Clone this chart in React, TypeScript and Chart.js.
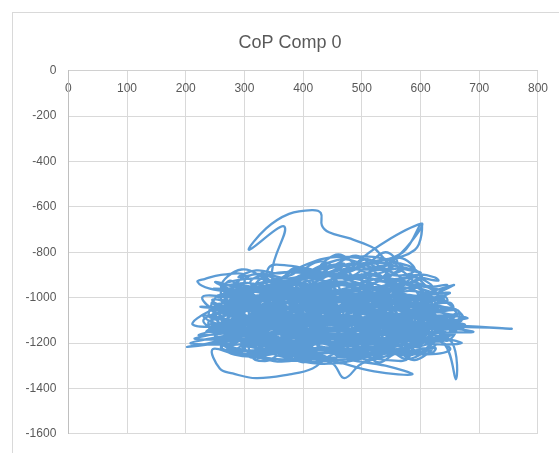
import { useEffect, useRef } from "react";
import { Chart, registerables } from "chart.js";

Chart.register(...registerables);

const chartTitle = "CoP Comp 0";
const xRange = [0, 800];
const yRange = [-1600, 0];
const xStep = 100;
const yStep = 200;

// CoP trajectory (x, y)
const copPath: [number, number][] = [
  [420, -1080], [520, -1120], [600, -1060], [480, -1010], [350, -1060], [290, -1140], [380, -1190], [520, -1160], [610, -1120], [560, -1210], [420, -1230], [320, -1180], [270, -1100], [330, -1010], [450, -980], [560, -1020],
  [630, -1090], [590, -1170], [470, -1200], [360, -1150], [310, -1080], [400, -1040], [530, -1060], [580, -1140], [500, -1250], [380, -1250], [300, -1200], [260, -1130], [300, -1050], [410, -950], [500, -900], [560, -940],
  [500, -1000], [420, -1060], [360, -980], [347, -883], [368, -687], [308, -789], [337, -695], [376, -631], [415, -614], [430, -627], [432, -682], [444, -712], [478, -738], [517, -777], [529, -802], [546, -875],
  [500, -960], [400, -1000], [330, -1100], [400, -1160], [520, -1190], [590, -1100], [540, -1000], [440, -940], [370, -990], [300, -1030], [250, -1090], [320, -1160], [450, -1130], [560, -1080], [620, -1020], [580, -960],
  [470, -900], [380, -920], [320, -970], [290, -1060], [350, -1120], [460, -1090], [540, -1140], [600, -1200], [530, -1250], [430, -1280], [350, -1270], [280, -1230], [250, -1170], [300, -1110], [420, -1120], [510, -1070],
  [600, -1110], [755, -1137], [640, -1130], [560, -1160], [450, -1180], [340, -1200], [280, -1170], [310, -1100], [380, -1060], [470, -1040], [520, -960], [480, -880], [601, -674], [560, -820], [500, -900], [430, -960],
  [350, -1030], [290, -1000], [260, -950], [295, -876], [340, -920], [420, -1000], [520, -1030], [600, -1080], [650, -1140], [620, -1200], [540, -1230], [440, -1220], [360, -1230], [290, -1250], [246, -1227], [258, -1312],
  [280, -1334], [320, -1355], [377, -1338], [416, -1312], [450, -1250], [520, -1200], [570, -1120], [500, -1060], [400, -1080], [320, -1130], [270, -1200], [330, -1240], [430, -1200], [500, -1130], [580, -1060], [640, -1050],
  [590, -1010], [657, -944], [600, -1000], [520, -990], [430, -1020], [360, -1090], [300, -1160], [240, -1200], [203, -1217], [280, -1190], [380, -1140], [470, -1150], [560, -1190], [620, -1160], [590, -1090], [490, -1050],
  [390, -1010], [320, -950], [340, -900], [410, -880], [470, -850], [430, -920], [380, -970], [300, -1010], [240, -1060], [212, -1119], [270, -1125], [350, -1100], [440, -1060], [540, -1090], [600, -1150], [560, -1240],
  [500, -1290], [470, -1355], [450, -1290], [400, -1260], [330, -1210], [280, -1140], [330, -1070], [430, -1030], [510, -1010], [580, -1030], [620, -1080], [600, -1140], [520, -1180], [430, -1160], [340, -1170], [300, -1220],
  [350, -1280], [430, -1270], [521, -1325], [586, -1338], [540, -1300], [480, -1270], [560, -1240], [636, -1196], [660, -1360], [653, -1196], [610, -1160], [520, -1130], [410, -1100], [320, -1040], [280, -960], [300, -900],
  [260, -900], [232, -918], [220, -930], [241, -960], [300, -980], [380, -1020], [470, -1000], [550, -960], [600, -900], [540, -850], [460, -820], [400, -860], [350, -940], [330, -1000], [380, -1110], [460, -1180],
  [560, -1150], [620, -1110], [677, -1124], [630, -1140], [540, -1110], [450, -1100], [360, -1130], [300, -1190], [360, -1220], [470, -1230], [560, -1200], [600, -1130], [570, -1040], [480, -980], [400, -960], [330, -960],
  [290, -1020], [310, -1090], [390, -1120], [480, -1110], [560, -1100], [620, -1060], [580, -990], [500, -940], [440, -880], [520, -840], [590, -790], [601, -674], [570, -800], [510, -850], [450, -900], [370, -960],
  [300, -1090], [250, -1140], [270, -1210], [350, -1240], [440, -1240], [530, -1210], [590, -1180], [640, -1170], [600, -1090], [520, -1080], [450, -1130], [380, -1180], [310, -1140], [330, -1060], [420, -1010], [500, -1030],
  [560, -1070], [520, -1150], [440, -1200], [350, -1190], [280, -1100], [320, -1000], [400, -960], [480, -940], [540, -980], [580, -1060], [540, -1120], [470, -1080], [400, -1100], [330, -1150], [270, -1160], [230, -1100],
  [280, -1060], [370, -1060], [450, -1080], [540, -1040], [610, -1060], [630, -1130], [580, -1220], [490, -1240], [400, -1210], [330, -1120], [380, -1040], [460, -1020], [550, -1050], [620, -1110], [560, -1180], [470, -1170],
  [390, -1150], [330, -1090], [360, -1010], [440, -980], [520, -920], [570, -870], [520, -820], [450, -840], [400, -900], [350, -980], [300, -1060], [330, -1130], [420, -1150], [510, -1140], [600, -1120], [650, -1090],
  [610, -1040], [540, -1010], [460, -1050], [380, -1080], [310, -1060], [260, -1010], [300, -960], [380, -990], [460, -1000], [540, -1030], [600, -1100], [570, -1180], [480, -1210], [390, -1230], [310, -1260], [270, -1230],
  [320, -1160], [410, -1090], [500, -1100], [570, -1160], [530, -1240], [450, -1290], [380, -1270], [330, -1220], [380, -1180], [460, -1160], [540, -1160], [620, -1180], [650, -1230], [590, -1250], [500, -1220], [420, -1190],
  [350, -1140], [290, -1090], [330, -1040], [420, -1060], [500, -1090], [560, -1000], [510, -930], [430, -900], [360, -890], [310, -930], [350, -990], [440, -1040], [530, -1080], [600, -1060], [560, -1120], [470, -1140],
  [380, -1100], [320, -1060], [360, -1130], [450, -1200], [540, -1190], [610, -1130], [580, -1080], [500, -1130], [420, -1140], [340, -1110], [290, -1180], [360, -1210], [460, -1180], [540, -1120], [480, -1060], [420, -1080],
  [330, -890], [360, -920], [385, -870], [420, -910], [450, -860], [480, -905], [510, -870], [540, -915], [565, -880], [590, -930],
  [620, -950], [590, -910], [560, -960], [530, -925], [500, -975], [465, -930], [430, -965], [400, -920], [365, -970], [330, -935], [300, -965], [275, -925],
  [260, -985], [290, -950], [320, -1000], [350, -960], [385, -1005], [415, -970], [450, -1010], [480, -965], [515, -1000], [545, -960], [580, -1005], [615, -975], [640, -1010],
  [655, -1040], [625, -1000], [595, -1050], [560, -1010], [525, -1055], [495, -1005], [460, -1045], [425, -1000], [395, -1050], [360, -1010], [325, -1055], [295, -1015], [265, -1050], [245, -1020],
  [250, -1070], [280, -1035], [310, -1085], [345, -1040], [375, -1090], [410, -1045], [440, -1085], [475, -1040], [505, -1090], [540, -1050], [570, -1095], [605, -1055], [635, -1090], [665, -1070],
  [660, -1110], [630, -1080], [600, -1125], [565, -1085], [535, -1130], [500, -1090], [470, -1135], [435, -1095], [400, -1130], [370, -1085], [335, -1125], [300, -1090], [270, -1130], [240, -1105],
  [245, -1150], [275, -1115], [305, -1165], [340, -1125], [370, -1170], [400, -1130], [435, -1175], [470, -1130], [500, -1170], [530, -1125], [565, -1175], [595, -1135], [630, -1170], [660, -1145],
  [645, -1190], [615, -1160], [585, -1210], [555, -1165], [520, -1215], [490, -1170], [455, -1210], [420, -1165], [390, -1215], [355, -1175], [320, -1220], [290, -1180], [260, -1215],
  [275, -1240], [305, -1205], [335, -1250], [365, -1210], [400, -1255], [430, -1215], [465, -1260], [495, -1220], [525, -1260], [560, -1215], [590, -1250], [620, -1225],
  [590, -1275], [560, -1245], [530, -1285], [500, -1250], [465, -1290], [430, -1255], [400, -1285], [365, -1250], [335, -1280], [310, -1250],
  [300, -930], [335, -895], [365, -945], [400, -900], [430, -950], [465, -890], [495, -940], [525, -895], [555, -945], [585, -900], [610, -950],
  [630, -990], [600, -1030], [570, -985], [540, -1030], [505, -980], [475, -1025], [440, -985], [410, -1030], [375, -980], [345, -1025], [310, -985], [280, -1020], [255, -990],
  [240, -1085], [270, -1060], [300, -1110], [330, -1065], [360, -1105], [390, -1060], [420, -1110], [455, -1065], [485, -1110], [520, -1070], [550, -1115], [585, -1070], [615, -1105], [650, -1080],
  [655, -1160], [620, -1135], [590, -1180], [560, -1140], [530, -1190], [495, -1145], [465, -1190], [430, -1150], [400, -1195], [365, -1150], [330, -1195], [300, -1155], [270, -1195], [250, -1165],
  [285, -1225], [315, -1265], [350, -1230], [380, -1270], [415, -1235], [445, -1275], [480, -1240], [510, -1275], [545, -1235], [575, -1270], [605, -1240],
  [640, -1125], [610, -1100], [580, -1145], [550, -1105], [515, -1150], [485, -1110], [450, -1150], [420, -1110], [385, -1155], [350, -1105], [320, -1150], [285, -1110], [255, -1150],
  [265, -1040], [295, -1005], [325, -1055], [355, -1015], [390, -1065], [420, -1020], [450, -1065], [485, -1020], [515, -1065], [550, -1025], [580, -1070], [610, -1030], [640, -1065],
  [600, -965], [570, -930], [540, -985], [505, -945], [475, -990], [440, -945], [410, -995], [375, -950], [345, -995], [310, -955], [280, -990],
  [300, -1000], [320, -1200], [350, -980], [370, -1230], [400, -960], [420, -1240], [450, -950], [470, -1250], [500, -940], [520, -1230], [550, -970], [570, -1210], [600, -1000], [620, -1180],
  [590, -1240], [560, -920], [535, -1220], [505, -900], [480, -1200], [455, -920], [425, -1210], [395, -930], [360, -1190], [335, -950], [305, -1170], [280, -1000], [260, -1150],
  [290, -1110], [315, -1080], [340, -1125], [360, -1090], [385, -1120], [410, -1075], [435, -1115], [460, -1075], [485, -1120], [510, -1080], [535, -1125], [560, -1085], [585, -1120], [610, -1090],
  [600, -1190], [575, -1155], [550, -1200], [525, -1160], [500, -1205], [475, -1165], [450, -1205], [425, -1160], [400, -1200], [375, -1165], [350, -1205], [320, -1170], [295, -1200],
  [300, -1025], [325, -990], [350, -1035], [380, -995], [405, -1040], [430, -995], [460, -1035], [485, -995], [510, -1040], [540, -1000], [565, -1040], [595, -1000],
  [615, -1140], [590, -1110], [560, -1155], [535, -1115], [505, -1160], [480, -1115], [455, -1160], [425, -1120], [400, -1160], [370, -1120], [345, -1160], [315, -1120], [290, -1155],
  [300, -1065], [330, -1030], [355, -1075], [385, -1035], [410, -1080], [440, -1035], [465, -1080], [495, -1035], [525, -1080], [555, -1040], [580, -1080], [610, -1045],
  [560, -900], [520, -870], [470, -830], [430, -860], [460, -810], [500, -860], [540, -800], [560, -850], [520, -880], [480, -850], [440, -890], [400, -870], [380, -900],
  [320, -940], [365, -925], [410, -948], [455, -928], [500, -945], [545, -922], [585, -940],
  [600, -955], [555, -938], [510, -962], [465, -942], [420, -960], [375, -940], [330, -958], [290, -945],
  [272, -968], [315, -955], [360, -975], [405, -957], [450, -978], [495, -958], [540, -972], [585, -955], [612, -970],
  [625, -985], [580, -970], [535, -992], [490, -972], [445, -990], [400, -968], [355, -988], [310, -972], [265, -985],
  [255, -998], [300, -985], [345, -1005], [390, -988], [435, -1008], [480, -990], [525, -1006], [570, -986], [615, -1002], [640, -992],
  [645, -1015], [600, -1000], [555, -1022], [510, -1003], [465, -1020], [420, -1000], [375, -1022], [330, -1004], [285, -1020], [250, -1008],
  [248, -1028], [292, -1015], [338, -1035], [383, -1016], [428, -1036], [473, -1018], [518, -1034], [563, -1015], [608, -1032], [650, -1022],
  [655, -1045], [612, -1030], [567, -1050], [522, -1032], [477, -1052], [432, -1033], [387, -1051], [342, -1031], [297, -1050], [250, -1038],
  [245, -1058], [290, -1045], [335, -1066], [380, -1046], [425, -1065], [470, -1044], [515, -1064], [560, -1047], [605, -1066], [655, -1052],
  [660, -1075], [615, -1060], [570, -1080], [525, -1062], [480, -1082], [435, -1060], [390, -1080], [345, -1061], [300, -1080], [250, -1068],
  [242, -1088], [288, -1075], [333, -1095], [378, -1076], [423, -1096], [468, -1075], [513, -1094], [558, -1076], [603, -1095], [648, -1078], [670, -1088],
  [668, -1104], [625, -1090], [580, -1110], [535, -1091], [490, -1111], [445, -1090], [400, -1110], [355, -1092], [310, -1110], [265, -1094], [240, -1102],
  [240, -1118], [285, -1105], [330, -1126], [375, -1106], [420, -1125], [465, -1104], [510, -1124], [555, -1106], [600, -1126], [645, -1108], [675, -1118],
  [672, -1134], [628, -1120], [583, -1140], [538, -1121], [493, -1141], [448, -1120], [403, -1140], [358, -1122], [313, -1140], [268, -1124], [242, -1132],
  [246, -1148], [290, -1135], [335, -1156], [380, -1136], [425, -1155], [470, -1134], [515, -1154], [560, -1136], [605, -1156], [650, -1140],
  [655, -1164], [610, -1150], [565, -1170], [520, -1151], [475, -1171], [430, -1150], [385, -1170], [340, -1152], [295, -1170], [252, -1156],
  [258, -1178], [302, -1165], [347, -1186], [392, -1166], [437, -1185], [482, -1164], [527, -1184], [572, -1166], [617, -1186], [645, -1172],
  [635, -1194], [592, -1180], [547, -1200], [502, -1181], [457, -1201], [412, -1180], [367, -1200], [322, -1182], [277, -1198],
  [282, -1208], [327, -1195], [372, -1216], [417, -1196], [462, -1215], [507, -1194], [552, -1214], [597, -1196], [625, -1208],
  [610, -1224], [567, -1210], [522, -1230], [477, -1211], [432, -1231], [387, -1210], [342, -1230], [297, -1214],
  [305, -1238], [350, -1225], [395, -1246], [440, -1226], [485, -1245], [530, -1224], [575, -1244], [600, -1232],
  [580, -1255], [535, -1242], [490, -1262], [445, -1243], [400, -1262], [355, -1242], [320, -1256],
  [340, -875], [380, -860], [420, -880], [460, -855], [500, -878], [540, -858], [580, -875],
  [600, -890], [560, -872], [520, -895], [480, -870], [440, -892], [400, -872], [360, -893], [320, -880],
  [290, -910], [330, -895], [375, -915], [420, -893], [465, -915], [510, -895], [555, -918], [600, -898], [625, -912],
  [630, -925], [588, -910], [545, -932], [500, -912], [455, -934], [410, -914], [365, -933], [320, -915], [275, -930],
  [262, -948], [305, -935], [350, -955], [395, -936], [440, -957], [485, -936], [530, -955], [575, -938], [620, -952], [645, -944],
  [640, -966], [598, -950], [552, -970], [508, -952], [462, -972], [418, -951], [372, -970], [328, -953], [282, -968], [250, -960],
  [632, -1000], [588, -1012], [543, -996], [498, -1014], [453, -997], [408, -1013], [363, -996], [318, -1012], [273, -998],
  [262, -1045], [307, -1055], [352, -1040], [397, -1058], [442, -1042], [487, -1057], [532, -1040], [577, -1056], [622, -1043], [660, -1052],
  [672, -1095], [627, -1102], [582, -1086], [537, -1103], [492, -1087], [447, -1102], [402, -1085], [357, -1101], [312, -1087], [267, -1100], [245, -1092],
  [250, -1140], [295, -1146], [340, -1130], [385, -1147], [430, -1131], [475, -1148], [520, -1130], [565, -1146], [610, -1131], [660, -1142],
  [640, -1180], [595, -1190], [550, -1175], [505, -1192], [460, -1176], [415, -1191], [370, -1174], [325, -1190], [280, -1178],
  [262, -1225], [305, -1234], [350, -1220], [395, -1236], [440, -1222], [485, -1238], [530, -1220], [575, -1235], [625, -1222],
  [620, -1242], [578, -1250], [535, -1238], [492, -1254], [450, -1237], [405, -1252], [362, -1236], [318, -1250], [280, -1240],
  [330, -1262], [372, -1272], [415, -1260], [458, -1276], [500, -1262], [545, -1275], [580, -1265],
  [600, -1100], [680, -1090], [610, -1120], [690, -1150], [620, -1160], [670, -1200], [610, -1190], [665, -1060], [600, -1070], [640, -1000], [590, -1030], [650, -980], [600, -990],
  [300, -1050], [225, -1040], [290, -1070], [235, -1150], [300, -1130], [215, -1180], [290, -1160], [228, -1000], [300, -1000], [250, -930], [310, -960],
  [450, -860], [490, -815], [530, -870], [565, -825], [590, -880], [550, -900], [510, -830], [470, -880], [430, -840], [400, -890], [460, -900], [520, -850], [580, -860], [600, -920],
  [320, -1100], [222, -1165], [300, -1150], [208, -1200], [290, -1190], [230, -1080], [310, -1120], [245, -1010], [320, -1050],
  [440, -1100],
];

const FONT = "'Liberation Sans', Arial, sans-serif";

export default function App() {
  const ref = useRef<HTMLCanvasElement>(null);

  useEffect(() => {
    const frame = {
      id: "frame",
      beforeDraw(chart: any) {
        const c = chart.ctx;
        c.save();
        c.fillStyle = "#ffffff";
        c.fillRect(0, 0, chart.width, chart.height);
        c.strokeStyle = "#d9d9d9";
        c.lineWidth = 1;
        c.strokeRect(12.5, 12.5, chart.width + 40, chart.height + 40);
        c.fillStyle = "#595959";
        c.font = `18px ${FONT}`;
        c.textAlign = "center";
        c.textBaseline = "middle";
        c.fillText(chartTitle, 290, 43);
        c.restore();
      },
    };

    const chart = new Chart(ref.current!, {
      type: "scatter",
      data: {
        datasets: [
          {
            data: copPath.map(([x, y]) => ({ x, y })),
            showLine: true,
            borderColor: "#5b9bd5",
            backgroundColor: "#5b9bd5",
            borderWidth: 2.3,
            pointRadius: 0,
            pointHoverRadius: 0,
            tension: 0.4,
            fill: false,
          },
        ],
      },
      options: {
        animation: false,
        responsive: false,
        events: [],
        layout: { padding: { left: 0, top: 70.7, right: 19.7, bottom: 9 } },
        plugins: {
          legend: { display: false },
          tooltip: { enabled: false },
          title: { display: false },
        },
        scales: {
          x: {
            type: "linear",
            position: { y: 0 } as any,
            min: xRange[0],
            max: xRange[1],
            ticks: {
              stepSize: xStep,
              color: "#595959",
              font: { family: FONT, size: 12 },
              padding: 11,
              maxRotation: 0,
              callback: (v: any) => String(v),
            },
            grid: { color: "#d9d9d9", drawTicks: false, lineWidth: 1 },
            border: { color: "#d0d0d0", width: 1 },
          },
          y: {
            type: "linear",
            position: "left",
            min: yRange[0],
            max: yRange[1],
            ticks: {
              stepSize: yStep,
              color: "#595959",
              font: { family: FONT, size: 12 },
              padding: 12,
              callback: (v: any) => String(v),
            },
            grid: { color: "#d9d9d9", drawTicks: false, lineWidth: 1 },
            border: { color: "#bfbfbf", width: 1 },
            afterFit(scale: any) {
              scale.width = 68.3;
            },
          },
        },
      },
      plugins: [frame],
    });
    return () => chart.destroy();
  }, []);

  return (
    <div style={{ position: "fixed", left: 0, top: 0, width: 559, height: 453 }}>
      <canvas ref={ref} width={559} height={453} style={{ display: "block" }} />
    </div>
  );
}
